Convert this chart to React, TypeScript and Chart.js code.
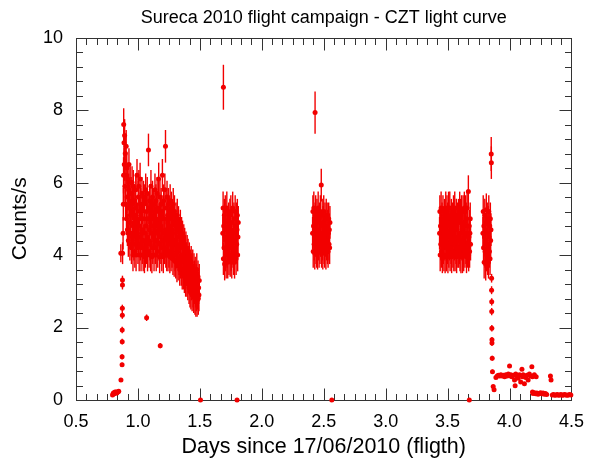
import React, { useEffect, useRef } from 'react';
import { Chart, registerables } from 'chart.js';

Chart.register(...registerables);

const RED = 'rgb(242,0,0)';
const FONT = "'Liberation Sans', Arial, Helvetica, sans-serif";

// ---- Axis definition ----
const X_MIN = 0.5, X_MAX = 4.5, X_MAJOR = 0.5, X_MINOR_DIV = 6;
const Y_MIN = 0, Y_MAX = 10, Y_MAJOR = 2, Y_MINOR_DIV = 5;

const TITLE = 'Sureca 2010 flight campaign - CZT light curve';
const X_TITLE = 'Days since 17/06/2010 (fligth)';
const Y_TITLE = 'Counts/s';

// ---- Data: pre-launch low points ----
const preX = [0.795, 0.800, 0.805, 0.810, 0.815, 0.820, 0.825, 0.830, 0.840, 0.845, 0.863];
const preY = [0.14, 0.18, 0.20, 0.17, 0.22, 0.20, 0.22, 0.19, 0.23, 0.24, 0.55];
const preErr = [0.03, 0.03, 0.03, 0.03, 0.03, 0.03, 0.03, 0.03, 0.03, 0.03, 0.05];

// ---- Ascent ----
const riseX = [0.872, 0.872, 0.873, 0.873, 0.874, 0.874, 0.875, 0.875, 0.862, 0.876, 0.880, 0.882, 0.884];
const riseY = [0.97, 1.19, 1.61, 1.93, 2.34, 2.53, 3.17, 3.31, 4.05, 4.05, 4.6, 5.4, 6.2];
const riseErr = [0.06, 0.07, 0.08, 0.09, 0.1, 0.1, 0.12, 0.12, 0.25, 0.3, 0.45, 0.45, 0.5];

// ---- Isolated points ----
const outlierX = [1.07, 1.18];
const outlierY = [2.27, 1.50];
const outlierErr = [0.09, 0.07];

const flareX = [1.69, 2.43];
const flareY = [8.63, 7.93];
const flareErr = [0.62, 0.58];

const zeroX = [1.505, 1.80, 2.565, 3.675];
const zeroY = [0, 0, 0, 0];

// ---- Float segments (binned light curve: start time, bin width, counts/s) ----
const BIN = 0.0025;
const SEG_ERR = 0.45;

const segBStart = 0.885;
const segB = [
  7.6, 7.1, 6.5, 7.3, 5.9, 6.8, 5.4, 6.2, 7.0, 5.0, 6.4, 5.6,
  4.7, 6.1, 5.3, 4.4, 5.8, 6.5, 4.9, 5.5, 4.3, 6.0, 5.1, 4.6,
  5.7, 4.2, 5.2, 6.0, 4.5, 5.4, 4.0, 5.9, 4.8, 4.3, 5.5, 4.9,
  4.1, 5.3, 4.6, 5.8, 4.0, 5.1, 4.4, 6.2, 4.7, 5.0, 4.2, 5.6,
  4.5, 5.9, 4.0, 5.2, 4.8, 6.1, 4.3, 5.4, 4.0, 5.0, 4.6, 5.7,
  4.2, 5.3, 4.7, 4.0, 5.6, 4.4, 5.0, 3.95, 5.5, 4.6, 4.1, 5.8,
  4.8, 4.2, 5.2, 4.5, 5.7, 4.0, 5.0, 4.4, 6.9, 5.3, 4.1, 4.7,
  5.5, 4.3, 5.0, 4.0, 5.9, 4.6, 5.2, 3.95, 4.8, 5.6, 4.2, 5.0,
  4.5, 5.4, 4.0, 5.1, 4.7, 5.8, 4.2, 4.9, 5.5, 4.0, 5.2, 4.4,
  5.7, 4.6, 4.1, 5.3, 4.8, 6.1, 4.3, 5.0, 3.95, 5.6, 4.5, 5.1,
  4.2, 5.4, 4.7, 4.0, 5.2, 6.2, 4.4, 5.0, 3.95, 5.5, 4.6, 5.0,
  4.2, 5.8, 4.5, 7.0, 4.1, 5.3, 4.7, 4.0, 5.6, 4.4, 5.1, 4.0,
  5.4, 4.6, 4.1, 5.2, 4.8, 3.95, 5.5, 4.3, 5.0, 4.0, 5.3, 4.5,
  4.1, 5.1, 4.6, 3.9, 5.4, 4.3, 4.9, 3.85, 5.2, 4.4, 4.0, 4.8,
  3.8, 5.0, 4.3, 4.7, 3.7, 5.1, 4.1, 4.5, 3.75, 4.9, 4.2, 3.9,
  4.6, 3.6, 4.3, 4.8, 3.8, 4.4, 3.6, 4.6, 4.0, 3.5, 4.5, 3.9,
  4.2, 3.5, 4.4, 3.8, 3.4, 4.3, 3.7, 4.1, 3.3, 4.2, 3.6, 3.9,
  3.3, 4.1, 3.6, 3.2, 4.0, 3.5, 3.8, 3.1, 3.9, 3.4, 3.0, 3.7,
  3.5, 2.95, 3.8, 3.2, 3.6, 2.9, 3.4, 3.7, 3.0, 3.3, 2.85, 3.6,
  3.1, 3.4, 2.8, 3.5, 3.0, 2.75, 3.3, 2.9, 3.6, 2.75, 3.2, 2.95,
  3.4, 2.8, 3.1, 2.9, 3.3,
];

const segCStart = 1.685;
const segC = [
  4.6, 5.3, 3.9, 4.8, 4.2, 5.1, 3.75, 4.5, 5.2, 4.0, 4.7, 3.8,
  4.4, 5.3, 4.1, 4.9, 3.8, 4.6, 4.3, 5.0, 3.9, 4.8, 4.2, 5.1,
  3.85, 4.7, 5.2, 4.0, 4.5, 3.8, 4.9, 4.3, 5.3, 4.1, 4.6, 3.9,
  5.0, 4.4, 3.8, 4.8, 5.2, 4.2, 4.6, 3.9, 5.0, 4.3, 4.7, 5.1,
  4.0, 4.5, 4.9,
];

const segDStart = 2.41;
const segD = [
  4.6, 5.2, 4.1, 4.8, 5.3, 4.3, 4.7, 4.05, 5.0, 4.4, 5.2, 4.2,
  4.6, 4.1, 5.1, 4.5, 4.05, 4.9, 5.3, 4.3, 4.7, 4.1, 5.0, 4.5,
  4.2, 5.2, 4.4, 4.8, 5.93, 4.1, 4.6, 5.1, 4.3, 4.05, 4.9, 4.5,
  5.2, 4.2, 4.7, 4.1, 5.0, 4.4, 4.8, 4.05, 5.1, 4.3, 4.6, 5.0,
  4.2, 4.8, 4.1, 4.6, 5.0, 4.3, 4.7, 4.2, 4.9,
];

const segEStart = 3.435;
const segE = [
  4.6, 5.2, 4.0, 4.8, 4.3, 5.3, 4.1, 4.7, 5.0, 3.95, 4.5, 5.2,
  4.2, 4.9, 4.0, 4.6, 5.1, 4.3, 3.95, 4.8, 5.3, 4.4, 4.0, 4.7,
  5.2, 4.2, 5.0, 3.95, 4.6, 5.3, 4.1, 4.8, 4.3, 5.3, 4.0, 4.5,
  4.9, 4.2, 5.1, 3.95, 4.7, 4.4, 5.0, 4.1, 4.6, 5.2, 4.0, 4.8,
  4.3, 5.3, 4.0, 4.5, 4.9, 4.2, 5.1, 3.95, 4.7, 4.4, 5.0, 4.1,
  4.5, 5.1, 4.1, 4.9, 4.2, 5.3, 4.0, 4.6, 5.1, 3.95, 4.4, 5.2,
  4.3, 4.8, 3.95, 4.7, 5.2, 4.2, 4.0, 4.9, 5.3, 4.5, 4.1, 4.6,
  5.2, 4.2, 5.0, 3.95, 4.6, 5.3, 4.1, 4.8, 4.3, 5.75, 4.0, 4.5,
  4.8, 4.1, 4.6, 5.0, 4.3,
];

const segFStart = 3.785;
const segF = [
  4.6, 5.2, 4.2, 4.8, 3.8, 4.5, 5.1, 4.1, 4.7, 3.75, 4.4, 5.25,
  4.0, 4.6, 5.0, 3.9, 4.3, 4.9, 3.8, 5.2, 4.5, 4.1, 4.8, 3.9,
  5.0, 4.4, 4.7,
];

// ---- Descent ----
const fallX = [3.852, 3.853, 3.855, 3.855, 3.856, 3.856, 3.857, 3.858, 3.858, 3.860, 3.862, 3.868, 3.875];
const fallY = [6.79, 6.55, 3.36, 3.03, 2.71, 2.44, 1.98, 1.66, 1.57, 1.15, 0.78, 0.37, 0.28];
const fallErr = [0.47, 0.45, 0.12, 0.11, 0.1, 0.1, 0.09, 0.08, 0.08, 0.07, 0.06, 0.04, 0.04];

// ---- After landing ----
const tailX = [
  3.89, 3.90, 3.91, 3.92, 3.93, 3.94, 3.95, 3.96, 3.97, 3.98,
  3.99, 4.00, 4.005, 4.01, 4.02, 4.03, 4.04, 4.045, 4.05, 4.06,
  4.07, 4.08, 4.09, 4.10, 4.105, 4.11, 4.12, 4.13, 4.14, 4.15,
  4.16, 4.17, 4.18, 4.185, 4.20, 4.215, 4.33, 4.335,
];
const tailY = [
  0.62, 0.66, 0.68, 0.66, 0.70, 0.66, 0.68, 0.64, 0.70, 0.66,
  0.72, 0.94, 0.66, 0.70, 0.64, 0.68, 0.55, 0.39, 0.72, 0.66,
  0.60, 0.70, 0.50, 0.85, 0.64, 0.70, 0.45, 0.62, 0.68, 0.55,
  0.72, 0.66, 0.92, 0.64, 0.70, 0.64, 0.66, 0.55,
];

const lowX = [
  4.185, 4.19, 4.20, 4.21, 4.22, 4.23, 4.24, 4.25, 4.26, 4.27,
  4.28, 4.29, 4.30, 4.345, 4.355, 4.365, 4.375, 4.385, 4.395, 4.405,
  4.415, 4.425, 4.435, 4.445, 4.455, 4.465, 4.475, 4.485, 4.495,
];
const lowY = [
  0.22, 0.18, 0.20, 0.17, 0.19, 0.16, 0.18, 0.20, 0.17, 0.19,
  0.16, 0.18, 0.15, 0.14, 0.15, 0.13, 0.14, 0.15, 0.13, 0.14,
  0.15, 0.13, 0.14, 0.15, 0.14, 0.13, 0.14, 0.15, 0.14,
];
const TAIL_ERR = 0.04;

type Pt = { x: number; y: number; err: number };

function pairs(xs: number[], ys: number[], errs: number[] | number): Pt[] {
  return xs.map((x, i) => ({ x, y: ys[i], err: Array.isArray(errs) ? errs[i] : errs }));
}
function binned(start: number, ys: number[], err: number): Pt[] {
  return ys.map((y, i) => ({ x: start + i * BIN, y, err }));
}

const errorBarPlugin = {
  id: 'errorBars',
  beforeDatasetsDraw(chart: any) {
    const { ctx } = chart;
    const xs = chart.scales.x, ys = chart.scales.y;
    ctx.save();
    ctx.strokeStyle = RED;
    ctx.lineWidth = 1.4;
    chart.data.datasets.forEach((ds: any) => {
      ds.data.forEach((p: Pt) => {
        if (!p.err) return;
        const px = xs.getPixelForValue(p.x);
        ctx.beginPath();
        ctx.moveTo(px, ys.getPixelForValue(p.y - p.err));
        ctx.lineTo(px, ys.getPixelForValue(p.y + p.err));
        ctx.stroke();
      });
    });
    ctx.restore();
  },
};

const framePlugin = {
  id: 'frameTicks',
  beforeDatasetsDraw(chart: any) {
    const { ctx, chartArea: a } = chart;
    const xs = chart.scales.x, ys = chart.scales.y;
    const L = Math.round(a.left) + 0.5, R = Math.round(a.right) + 0.5;
    const T = Math.round(a.top) + 0.5, B = Math.round(a.bottom) + 0.5;
    ctx.save();
    ctx.strokeStyle = '#333';
    ctx.lineWidth = 1;
    ctx.strokeRect(L, T, R - L, B - T);
    ctx.beginPath();
    const nx = Math.round(((X_MAX - X_MIN) / X_MAJOR) * X_MINOR_DIV);
    for (let i = 0; i <= nx; i++) {
      const v = X_MIN + (i * X_MAJOR) / X_MINOR_DIV;
      const len = i % X_MINOR_DIV === 0 ? 12 : 6.5;
      const px = Math.round(xs.getPixelForValue(v)) + 0.5;
      ctx.moveTo(px, B); ctx.lineTo(px, B - len);
      ctx.moveTo(px, T); ctx.lineTo(px, T + len);
    }
    const ny = Math.round(((Y_MAX - Y_MIN) / Y_MAJOR) * Y_MINOR_DIV);
    for (let i = 0; i <= ny; i++) {
      const v = Y_MIN + (i * Y_MAJOR) / Y_MINOR_DIV;
      const len = i % Y_MINOR_DIV === 0 ? 12 : 6.5;
      const py = Math.round(ys.getPixelForValue(v)) + 0.5;
      ctx.moveTo(L, py); ctx.lineTo(L + len, py);
      ctx.moveTo(R, py); ctx.lineTo(R - len, py);
    }
    ctx.stroke();
    ctx.restore();
  },
};

export default function App() {
  const ref = useRef<HTMLCanvasElement | null>(null);
  useEffect(() => {
    document.body.style.margin = '0';
    const groups: Pt[][] = [
      pairs(preX, preY, preErr),
      pairs(riseX, riseY, riseErr),
      binned(segBStart, segB, SEG_ERR),
      pairs(outlierX, outlierY, outlierErr),
      binned(segCStart, segC, SEG_ERR),
      pairs(flareX, flareY, flareErr),
      binned(segDStart, segD, SEG_ERR),
      binned(segEStart, segE, SEG_ERR),
      binned(segFStart, segF, SEG_ERR),
      pairs(fallX, fallY, fallErr),
      pairs(tailX, tailY, TAIL_ERR),
      pairs(lowX, lowY, TAIL_ERR),
      pairs(zeroX, zeroY, 0),
    ];
    const chart = new Chart(ref.current as HTMLCanvasElement, {
      type: 'scatter',
      data: {
        datasets: groups.map((g) => ({
          data: g as any,
          backgroundColor: RED,
          borderWidth: 0,
          pointRadius: 2.5,
          clip: false as any,
        })),
      },
      options: {
        animation: false,
        responsive: false,
        devicePixelRatio: 1,
        layout: { padding: { left: 0, right: 15, top: 0, bottom: 0 } },
        plugins: {
          legend: { display: false },
          tooltip: { enabled: false },
          title: {
            display: true,
            fullSize: false,
            text: TITLE,
            color: '#000',
            font: { family: FONT, size: 18, weight: 'normal' as any },
            padding: { top: 7, bottom: 9 },
          },
        },
        scales: {
          x: {
            type: 'linear',
            min: X_MIN,
            max: X_MAX,
            grid: { display: false, drawTicks: false },
            border: { display: false },
            ticks: {
              stepSize: X_MAJOR,
              autoSkip: false,
              maxRotation: 0,
              padding: 11,
              color: '#000',
              font: { family: FONT, size: 18 },
              callback: (v: any) => Number(v).toFixed(1),
            },
            title: {
              display: true,
              text: X_TITLE,
              color: '#000',
              font: { family: FONT, size: 21.5 },
              padding: { top: 0, bottom: 12 },
            },
            afterFit: (s: any) => { s.height = 72; },
          },
          y: {
            type: 'linear',
            min: Y_MIN,
            max: Y_MAX,
            grid: { display: false, drawTicks: false },
            border: { display: false },
            ticks: {
              stepSize: Y_MAJOR,
              padding: 13,
              color: '#000',
              font: { family: FONT, size: 18 },
              callback: (v: any) => String(v),
            },
            title: {
              display: true,
              text: Y_TITLE,
              color: '#000',
              font: { family: FONT, size: 21 },
              padding: { top: 8, bottom: 0 },
            },
            afterFit: (s: any) => { s.width = 76; },
          },
        },
      },
      plugins: [framePlugin, errorBarPlugin],
    });
    return () => chart.destroy();
  }, []);
  return (
    <div style={{ width: 595, height: 472 }}>
      <canvas ref={ref} width={595} height={472} style={{ display: 'block' }} />
    </div>
  );
}
